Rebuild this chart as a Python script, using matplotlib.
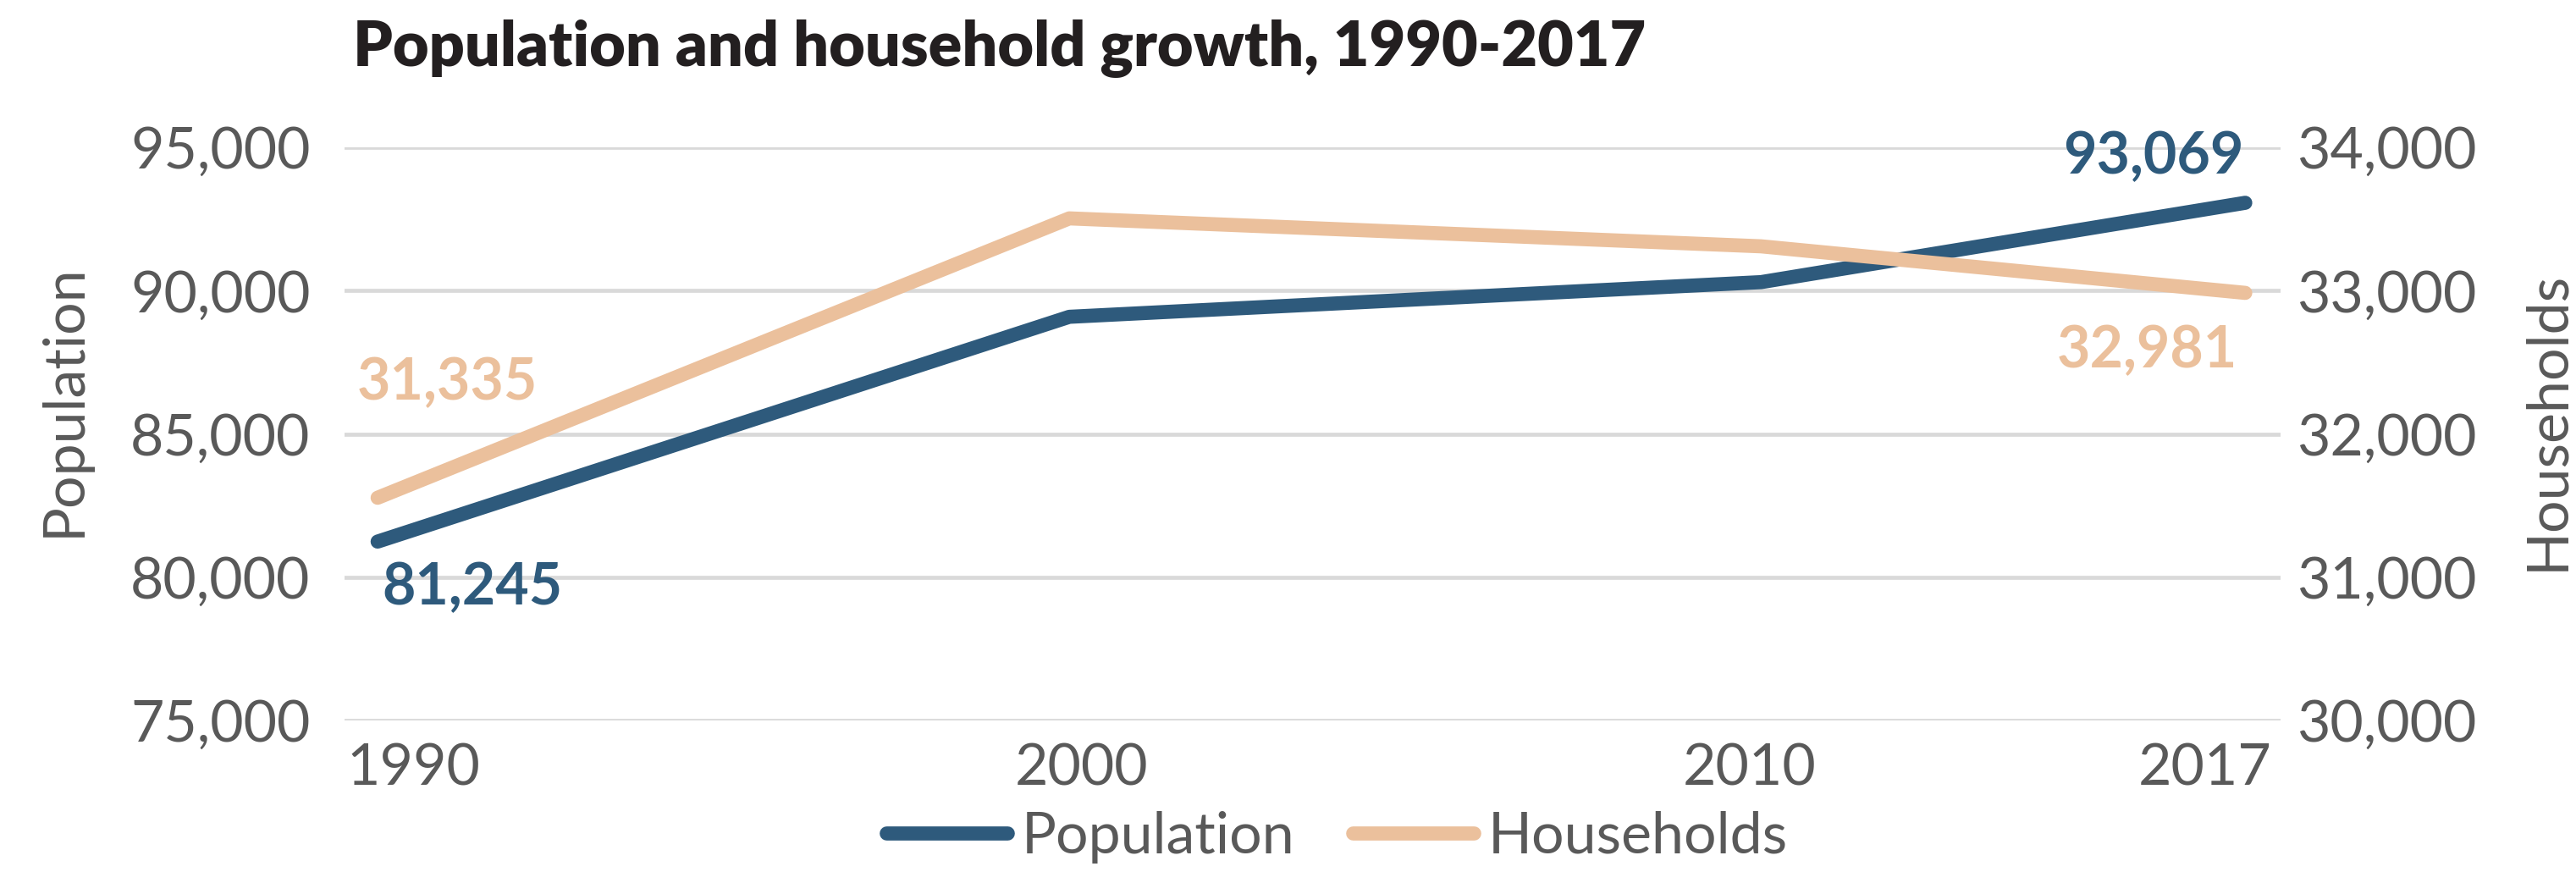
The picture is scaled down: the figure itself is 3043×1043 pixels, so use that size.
import matplotlib
matplotlib.use("Agg")
import matplotlib.pyplot as plt
import matplotlib.transforms as mtransforms
from matplotlib.ticker import FuncFormatter
from matplotlib.lines import Line2D

years = [1990, 2000, 2010, 2017]
population = [81245, 89090, 90300, 93069]
households = [31555, 33505, 33310, 32985]
pop_label_text = ["81,245", "93,069"]
hh_label_text = ["31,335", "32,981"]
x_ticks = [1990, 2000, 2010, 2017]
left_ticks = [75000, 80000, 85000, 90000, 95000]
right_ticks = [30000, 31000, 32000, 33000, 34000]

BLUE = "#2E5A7C"
PEACH = "#EBC09C"
GRAY = "#595959"
GRID = "#D9D9D9"
FS = 49
LW = 12

plt.rcParams['font.family'] = ['Lato', 'DejaVu Sans']

fig = plt.figure(figsize=(30.43, 10.43), dpi=100)
ax = fig.add_axes([0.1337, 0.184, 0.7516, 0.649])
ax2 = ax.twinx()

ax.set_xlim(1989.52, 2017.51)
ax.set_ylim(75000, 95000)
ax2.set_ylim(30000, 34000)

ax.set_yticks(left_ticks)
ax2.set_yticks(right_ticks)
ax.set_xticks(x_ticks)
fmt = FuncFormatter(lambda v, p: f"{int(v):,}")
ax.yaxis.set_major_formatter(fmt)
ax2.yaxis.set_major_formatter(fmt)

for a in (ax, ax2):
    for s in a.spines.values():
        s.set_visible(False)
    a.tick_params(length=0, labelsize=FS, labelcolor=GRAY)
ax.tick_params(axis='y', pad=29)
ax2.tick_params(axis='y', pad=14)
ax.tick_params(axis='x', pad=19)

# Excel-like placement of the date-axis labels
x_shift_px = [42, 14, -14, -48]
for lab, dx in zip(ax.get_xticklabels(), x_shift_px):
    lab.set_transform(lab.get_transform() +
                      mtransforms.ScaledTranslation(dx / 100, 0, fig.dpi_scale_trans))

ax.grid(axis='y', color=GRID, linewidth=3.4)
ax.grid(axis='x', visible=False)
ax.set_axisbelow(True)

ax.plot(years, population, color=BLUE, lw=LW, solid_capstyle='round', zorder=3)
ax2.plot(years, households, color=PEACH, lw=LW, solid_capstyle='round', zorder=3)

ax.set_ylabel("Population", fontsize=FS, color=GRAY)
ax2.set_ylabel("Households", fontsize=FS, color=GRAY)
ax.yaxis.set_label_coords(0.025, 0.547, transform=fig.transFigure)
ax2.yaxis.set_label_coords(0.9888, 0.524, transform=fig.transFigure)
ax.yaxis.label.set_va('center')
ax2.yaxis.label.set_va('center')

# data labels (offsets in pixels)
ax.annotate(pop_label_text[0], (years[0], population[0]), xytext=(112, -74),
            textcoords='offset pixels', ha='center', va='baseline',
            fontsize=FS, fontweight='bold', color=BLUE)
ax.annotate(pop_label_text[1], (years[-1], population[-1]), xytext=(-2, 34),
            textcoords='offset pixels', ha='right', va='baseline',
            fontsize=FS, fontweight='bold', color=BLUE)
ax2.annotate(hh_label_text[0], (years[0], households[0]), xytext=(82, 116),
             textcoords='offset pixels', ha='center', va='baseline',
             fontsize=FS, fontweight='bold', color=PEACH)
ax2.annotate(hh_label_text[1], (years[-1], households[-1]), xytext=(-116, -88),
             textcoords='offset pixels', ha='center', va='baseline',
             fontsize=FS, fontweight='bold', color=PEACH)

fig.text(0.137, 0.945, "Population and household growth, 1990-2017",
         fontsize=53, fontweight='heavy', color="#231F20", ha='left', va='center')

handles = [Line2D([0], [0], color=BLUE, lw=LW, solid_capstyle='round'),
           Line2D([0], [0], color=PEACH, lw=LW, solid_capstyle='round')]
fig.legend(handles, ["Population", "Households"], loc='center',
           bbox_to_anchor=(0.519, 0.052), ncol=2, frameon=False,
           fontsize=FS, labelcolor=GRAY, handlelength=2.1,
           handletextpad=0.25, columnspacing=1.0, borderpad=0, borderaxespad=0)

fig.savefig("out.png", dpi=100)
